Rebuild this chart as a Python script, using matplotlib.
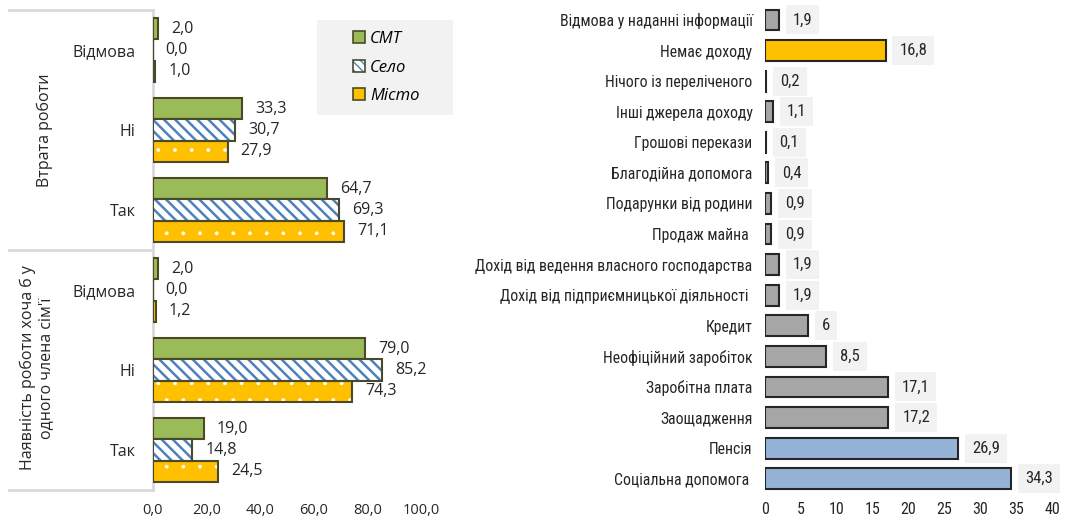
import matplotlib
matplotlib.use("Agg")
import matplotlib.pyplot as plt
from matplotlib import font_manager
from matplotlib.patches import Patch, Rectangle
from matplotlib.lines import Line2D
from matplotlib.legend_handler import HandlerTuple

def pick(cands):
    for c in cands:
        try:
            font_manager.findfont(c, fallback_to_default=False)
            return c
        except Exception:
            pass
    return 'DejaVu Sans'

FONT_L = pick(['Open Sans', 'Noto Sans', 'Liberation Sans'])
FONT_R = pick(['Roboto Condensed', 'Liberation Sans Narrow', 'Roboto', 'Open Sans'])

plt.rcParams['font.family'] = [FONT_L, 'DejaVu Sans']

# ---------------- data: left chart ----------------
left_categories = ['Відмова', 'Ні', 'Так', 'Відмова', 'Ні', 'Так']
left_groups = ['Втрата роботи', "Наявність роботи хоча б у\nодного члена сім'ї"]
series_names = ['СМТ', 'Село', 'Місто']
smt = [2.0, 33.3, 64.7, 2.0, 79.0, 19.0]
selo = [0.0, 30.7, 69.3, 0.0, 85.2, 14.8]
misto = [1.0, 27.9, 71.1, 1.2, 74.3, 24.5]
left_xticks = [0, 20, 40, 60, 80, 100]

# ---------------- data: right chart ----------------
right_labels = ['Відмова у наданні інформації', 'Немає доходу', 'Нічого із переліченого',
                'Інші джерела доходу', 'Грошові перекази', 'Благодійна допомога',
                'Подарунки від родини', 'Продаж майна ', 'Дохід від ведення власного господарства',
                'Дохід від підприємницької діяльності ', 'Кредит', 'Неофіційний заробіток',
                'Заробітна плата', 'Заощадження', 'Пенсія', 'Соціальна допомога ']
right_values = [1.9, 16.8, 0.2, 1.1, 0.1, 0.4, 0.9, 0.9, 1.9, 1.9, 6, 8.5, 17.1, 17.2, 26.9, 34.3]
right_xticks = [0, 5, 10, 15, 20, 25, 30, 35, 40]

GREEN = '#9bbb59'
BLUE = '#4f81bd'
YELLOW = '#ffc000'
EDGE = '#4a4a2a'
GRAY = '#a6a6a6'
LBLUE = '#95b3d7'
TXT = '#262626'

W, H = 1079, 519
fig = plt.figure(figsize=(W / 100, H / 100), dpi=100)

def fx(px):
    return px / W

def fy(py):
    return 1 - py / H

def comma(v, fmt='{:.1f}'):
    return fmt.format(v).replace('.', ',')

# ---------------- left chart ----------------
axl = fig.add_axes([fx(152.5), fy(490), fx(421.5) - fx(152.5), fy(10) - fy(490)])
h = 0.265
ys = list(range(len(left_categories)))

axl.barh([y - h for y in ys], smt, height=h, color=GREEN, edgecolor=EDGE, linewidth=1.5, zorder=3)
with plt.rc_context({'hatch.linewidth': 1.8}):
    axl.barh(ys, selo, height=h, color='white', edgecolor=BLUE, hatch='\\\\\\', linewidth=0, zorder=3)
axl.barh(ys, selo, height=h, color='none', edgecolor=EDGE, linewidth=1.5, zorder=4)
with plt.rc_context({'hatch.linewidth': 0.3}):
    axl.barh([y + h for y in ys], misto, height=h, color=YELLOW, edgecolor='white', hatch='.',
             linewidth=0, zorder=3)
axl.barh([y + h for y in ys], misto, height=h, color='none', edgecolor=EDGE, linewidth=1.5, zorder=4)

for vals, off in [(smt, -h), (selo, 0), (misto, h)]:
    for y, v in zip(ys, vals):
        axl.annotate(comma(v), (v, y + off), xytext=(9.5, 0), textcoords='offset points',
                     ha='left', va='center', fontsize=11.5, color=TXT)

axl.set_xlim(0, 100)
axl.set_ylim(5.5, -0.5)
axl.set_yticks(ys)
axl.set_yticklabels(left_categories, fontsize=11.5, color=TXT)
axl.set_xticks(left_xticks)
axl.set_xticklabels([comma(v) for v in left_xticks], fontsize=10.5, color=TXT)
axl.tick_params(axis='y', length=0, pad=12)
axl.tick_params(axis='x', length=0, pad=9)
for s in ['top', 'right', 'bottom']:
    axl.spines[s].set_visible(False)
axl.spines['left'].set_color('#d9d9d9')
axl.spines['left'].set_linewidth(2)

# legend box + legend
axl.add_patch(Rectangle((0.610, 0.781), 0.506, 0.198, transform=axl.transAxes,
                        facecolor='#f2f2f2', edgecolor='none', zorder=5, clip_on=False))
with plt.rc_context({'hatch.linewidth': 1.2}):
    sel_h = Patch(facecolor='white', edgecolor=BLUE, hatch='\\\\\\\\', linewidth=0)
handles = [
    (Patch(facecolor=GREEN, edgecolor=EDGE, linewidth=1.2),),
    (sel_h, Patch(facecolor='none', edgecolor=EDGE, linewidth=1.2)),
    (Patch(facecolor=YELLOW, edgecolor=EDGE, linewidth=1.2),),
]
leg = axl.legend(handles, series_names, loc='center', bbox_to_anchor=(0.87, 0.880),
                 frameon=False, prop={'style': 'italic', 'size': 12},
                 handlelength=0.7, handleheight=0.7, handletextpad=0.3, labelspacing=0.75,
                 handler_map={tuple: HandlerTuple(ndivide=1)})
leg.set_zorder(6)

# group panel lines
for py in [10, 250, 490]:
    fig.add_artist(Line2D([fx(9), fx(152)], [fy(py), fy(py)], color='#d9d9d9', linewidth=2))

fig.text(fx(45), fy(130), left_groups[0], rotation=90, ha='center', va='center',
         fontsize=11.5, color=TXT)
fig.text(fx(37), fy(368), left_groups[1], rotation=90, ha='center', va='center',
         fontsize=11.5, color=TXT, multialignment='center', linespacing=1.2)

# ---------------- right chart ----------------
axr = fig.add_axes([fx(765), fy(494), fx(1052) - fx(765), fy(4.7) - fy(494)])
ry = list(range(len(right_labels)))
rcolors = [GRAY] * len(right_values)
rcolors[1] = YELLOW
rcolors[14] = LBLUE
rcolors[15] = LBLUE
axr.barh(ry, right_values, height=0.68, color=rcolors, edgecolor=TXT, linewidth=1.5, zorder=3)
for y, v in zip(ry, right_values):
    lab = str(int(v)) if float(v).is_integer() else comma(v)
    axr.annotate(lab, (v, y), xytext=(10, 0), textcoords='offset points', ha='left', va='center',
                 fontsize=12, color=TXT, family=[FONT_R, 'DejaVu Sans'],
                 bbox=dict(boxstyle='square,pad=0.42', facecolor='#f2f2f2', edgecolor='none'))
axr.set_xlim(0, 40)
axr.set_ylim(15.5, -0.5)
axr.set_yticks(ry)
axr.set_yticklabels(right_labels, fontsize=11.5, color=TXT, family=[FONT_R, 'DejaVu Sans'])
axr.set_xticks(right_xticks)
axr.set_xticklabels([str(v) for v in right_xticks], fontsize=11.5, color=TXT,
                    family=[FONT_R, 'DejaVu Sans'])
axr.tick_params(axis='y', length=0, pad=9)
axr.tick_params(axis='x', length=0, pad=6)
for s in axr.spines.values():
    s.set_visible(False)

# fit the right category labels to the reference width (~274 px for the longest)
fig.canvas.draw()
rend = fig.canvas.get_renderer()
tl = axr.get_yticklabels()
wmax = max(t.get_window_extent(rend).width for t in tl)
scale = 276.0 / wmax
for t in tl:
    t.set_fontsize(t.get_fontsize() * scale)

fig.savefig('out.png', dpi=100)
